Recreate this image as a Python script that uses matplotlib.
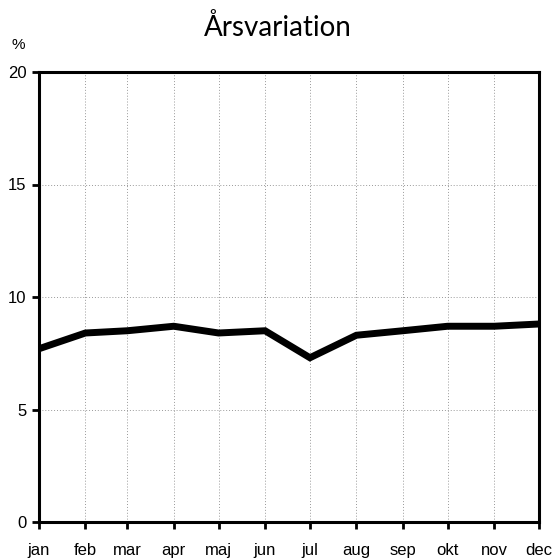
import matplotlib
matplotlib.use("Agg")
import matplotlib.pyplot as plt

# month labels and start day of each month in the year
months = ['jan', 'feb', 'mar', 'apr', 'maj', 'jun', 'jul', 'aug', 'sep', 'okt', 'nov', 'dec']
month_start_day = [0, 31, 59, 90, 120, 151, 181, 212, 243, 273, 304, 334]
share_pct = [7.7, 8.4, 8.5, 8.7, 8.4, 8.5, 7.3, 8.3, 8.5, 8.7, 8.7, 8.8]
y_ticks = [0, 5, 10, 15, 20]

plt.rcParams['font.family'] = ['Liberation Sans', 'DejaVu Sans']

fig = plt.figure(figsize=(5.55, 5.60), dpi=100)
ax = fig.add_axes([39 / 555, 38 / 560, 500 / 555, 450 / 560])

ax.plot(month_start_day, share_pct, color='black', linewidth=5, solid_joinstyle='miter')

ax.set_xlim(month_start_day[0], month_start_day[-1])
ax.set_ylim(0, 20)
ax.set_xticks(month_start_day)
ax.set_xticklabels(months)
ax.set_yticks(y_ticks)

ax.grid(True, color='#999999', linestyle=(0, (1, 2)), linewidth=0.7)
for s in ax.spines.values():
    s.set_linewidth(2.2)
ax.tick_params(axis='both', length=5, width=2, labelsize=12, pad=4)
ax.tick_params(axis='x', pad=10)

fig.text(0.5, 1 - 28 / 560, 'Årsvariation', ha='center', va='center', fontsize=20, family=['Lato', 'DejaVu Sans'])
fig.text(18 / 555, 1 - 45 / 560, '%', ha='center', va='center', fontsize=11)

fig.savefig('out.png', dpi=100)
